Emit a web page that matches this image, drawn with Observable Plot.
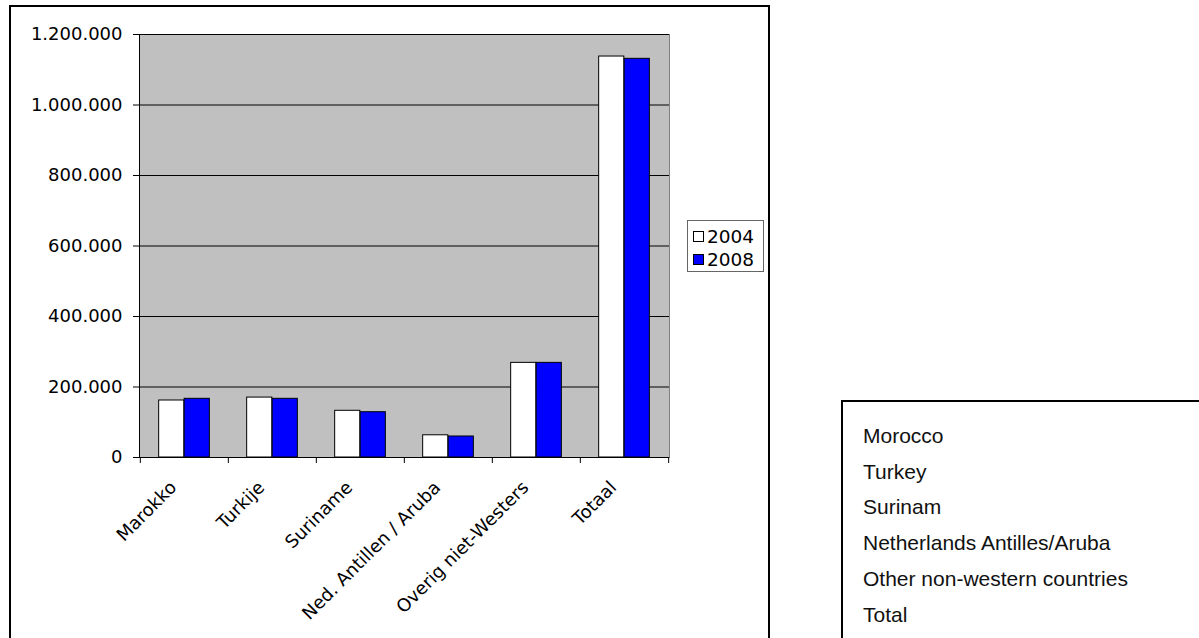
<!DOCTYPE html>
<html>
<head>
<meta charset="utf-8">
<script src="https://cdn.jsdelivr.net/npm/d3@7"></script>
<script src="https://cdn.jsdelivr.net/npm/@observablehq/plot@0.6"></script>
<style>
  body { margin: 0; background: #fff; }
  #wrap { position: relative; width: 1199px; height: 638px; overflow: hidden; background: #fff; }
  #chart { position: absolute; left: 0; top: 0; }
  #frame { position: absolute; left: 9px; top: 5px; width: 761px; height: 700px; border: 2px solid #000; box-sizing: border-box; }
  #legend { position: absolute; left: 687px; top: 220px; width: 77px; height: 52px; border: 1px solid #666; box-sizing: border-box; background: #fff;
            font-family: "DejaVu Sans", Verdana, sans-serif; font-size: 18.5px; color: #000; padding: 4px 0 0 5px; }
  #legend .row { display: flex; align-items: center; height: 23px; }
  #legend .sw { width: 11px; height: 11px; border: 1px solid #000; margin-right: 3px; box-sizing: border-box; }
  #eng { position: absolute; left: 841px; top: 400px; width: 500px; height: 400px; border: 2px solid #000; box-sizing: border-box;
         font-family: "Liberation Sans", Arial, sans-serif; font-size: 21px; color: #111; padding: 16px 0 0 20px; line-height: 35.7px; }
</style>
</head>
<body>
<div id="wrap">
  <div id="chart"></div>
  <div id="frame"></div>
  <div id="legend"></div>
  <div id="eng"></div>
</div>
<script>
// ---- data ----
const categories = ["Marokko", "Turkije", "Suriname", "Ned. Antillen / Aruba", "Overig niet-Westers", "Totaal"];
const values2004 = [161700, 170000, 132500, 63000, 268500, 1137500];
const values2008 = [166500, 166500, 128500, 59600, 268500, 1131000];
const seriesNames = ["2004", "2008"];
const seriesColors = ["#ffffff", "#0000ff"];
const yTicks = [0, 200000, 400000, 600000, 800000, 1000000, 1200000];
const englishLabels = ["Morocco", "Turkey", "Surinam", "Netherlands Antilles/Aruba", "Other non-western countries", "Total"];

const rows2004 = categories.map((c, i) => ({cat: c, v: values2004[i]}));
const rows2008 = categories.map((c, i) => ({cat: c, v: values2008[i]}));

const nl = d3.formatLocale({thousands: ".", decimal: ",", grouping: [3], currency: ["", ""]});
const fmt = nl.format(",");

const W = 1199, H = 638;
const mL = 139, mR = 530, mT = 34, mB = 181;
const step = (W - mL - mR) / categories.length;
const barW = step * 0.2887;           // Excel gap width 150%
const half = step / 2;

const chart = Plot.plot({
  width: W, height: H,
  marginLeft: mL, marginRight: mR, marginTop: mT, marginBottom: mB,
  style: {fontFamily: "DejaVu Sans, Verdana, sans-serif", fontSize: "18px", color: "#000", background: "transparent"},
  x: {domain: categories, padding: 0, label: null},
  y: {domain: [0, 1200000], label: null},
  marks: [
    Plot.frame({fill: "#c0c0c0", stroke: "#808080"}),
    Plot.gridY(yTicks, {stroke: "#000", strokeOpacity: 1, strokeWidth: 1}),
    Plot.barY(rows2004, {x: "cat", y: "v", fill: seriesColors[0], stroke: "#000", strokeWidth: 1,
      insetLeft: half - barW, insetRight: half}),
    Plot.barY(rows2008, {x: "cat", y: "v", fill: seriesColors[1], stroke: "#000", strokeWidth: 1,
      insetLeft: half, insetRight: half - barW}),
    Plot.frame({anchor: "left", stroke: "#000"}),
    Plot.ruleY([0], {stroke: "#000"}),
    Plot.ruleX(categories, {x: d => d, y1: 0, y2: 0, dx: -half, insetBottom: -6, stroke: "#000"}),
    Plot.ruleX([categories[categories.length - 1]], {x: d => d, y1: 0, y2: 0, dx: half, insetBottom: -6, stroke: "#000"}),
    Plot.axisY({ticks: yTicks, tickFormat: fmt, tickSize: 6, tickPadding: 11, fontSize: 18}),
    Plot.axisX({tickSize: 0, tickRotate: -45, tickPadding: 12, dx: -11, dy: 15, fontSize: 18})
  ]
});
document.getElementById("chart").appendChild(chart);

// legend
const leg = document.getElementById("legend");
seriesNames.forEach((s, i) => {
  const r = document.createElement("div");
  r.className = "row";
  const sw = document.createElement("span");
  sw.className = "sw";
  sw.style.background = seriesColors[i];
  const t = document.createElement("span");
  t.textContent = s;
  r.appendChild(sw); r.appendChild(t);
  leg.appendChild(r);
});

// English labels box
const eng = document.getElementById("eng");
englishLabels.forEach(l => {
  const d = document.createElement("div");
  d.textContent = l;
  eng.appendChild(d);
});
</script>
</body>
</html>
